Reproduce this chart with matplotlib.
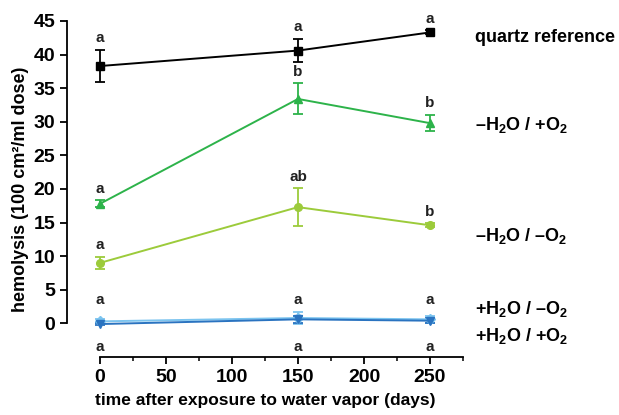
import matplotlib
matplotlib.use("Agg")
import matplotlib.pyplot as plt
from matplotlib.ticker import FixedLocator

plt.rcParams['font.family'] = ['Liberation Sans', 'DejaVu Sans']
plt.rcParams['font.weight'] = 'bold'
plt.rcParams['mathtext.fontset'] = 'custom'
plt.rcParams['mathtext.rm'] = 'Liberation Sans:bold'
plt.rcParams['mathtext.default'] = 'rm'

days = [0, 150, 250]

# mean hemolysis and error per group
quartz = [38.3, 40.6, 43.3]
quartz_err = [2.4, 1.7, 0.3]
dry_ox = [17.8, 33.4, 29.8]
dry_ox_err = [0.5, 2.3, 1.2]
dry_anox = [9.0, 17.3, 14.6]
dry_anox_err = [0.9, 2.8, 0.3]
wet_anox = [0.3, 0.8, 0.6]
wet_anox_err = [0.3, 0.9, 0.5]
wet_ox = [-0.1, 0.6, 0.4]
wet_ox_err = [0.2, 0.5, 0.4]

quartz_sig = ['a', 'a', 'a']
dry_ox_sig = ['a', 'b', 'b']
dry_anox_sig = ['a', 'ab', 'b']
wet_anox_sig = ['a', 'a', 'a']
wet_ox_sig = ['a', 'a', 'a']

group_labels = ['quartz reference', '\u2013H$_2$O / +O$_2$', '\u2013H$_2$O / \u2013O$_2$',
                '+H$_2$O / \u2013O$_2$', '+H$_2$O / +O$_2$']
label_y = [42.5, 29.5, 13.0, 2.2, -1.9]

fig = plt.figure(figsize=(6.19, 4.15), dpi=100)
ax = fig.add_axes([0.1082, 0.1398, 0.748 - 0.1082, 0.9494 - 0.1398])

series = [
    (quartz, quartz_err, 'black', 's', quartz_sig, 'above'),
    (dry_ox, dry_ox_err, '#2db34a', '^', dry_ox_sig, 'above'),
    (dry_anox, dry_anox_err, '#9ccb3b', 'o', dry_anox_sig, 'above'),
    (wet_anox, wet_anox_err, '#7cc4ef', 'D', wet_anox_sig, 'above'),
    (wet_ox, wet_ox_err, '#2a73c0', 'v', wet_ox_sig, 'below'),
]

for vals, errs, col, mk, sig, pos in series:
    ax.errorbar(days, vals, yerr=errs, color=col, marker=mk, markersize=5.5,
                linewidth=1.4, elinewidth=1.3, capsize=3.5, capthick=1.3,
                clip_on=False, zorder=3)
    for d, v, e, s in zip(days, vals, errs, sig):
        if pos == 'above':
            if col == '#7cc4ef':
                yy = 2.4
            else:
                yy = v + e + 0.7
            ax.text(d, yy, s, ha='center', va='bottom', fontsize=11,
                    fontweight='bold', color='#222222')
        else:
            ax.text(d, -2.4, s, ha='center', va='top', fontsize=11,
                    fontweight='bold', color='#222222')

for lab, yy in zip(group_labels, label_y):
    ax.text(1.03, yy, lab, transform=ax.get_yaxis_transform(), ha='left',
            va='center', fontsize=13, fontweight='bold')

ax.set_xlim(-25, 275)
ax.set_ylim(-5, 45)
ax.spines['top'].set_visible(False)
ax.spines['right'].set_visible(False)
ax.spines['left'].set_bounds(0, 45)
ax.spines['bottom'].set_bounds(0, 275)
ax.spines['left'].set_linewidth(1.3)
ax.spines['bottom'].set_linewidth(1.3)
ax.set_xticks([0, 50, 100, 150, 200, 250])
ax.xaxis.set_minor_locator(FixedLocator([25, 75, 125, 175, 225, 275]))
ax.set_yticks(range(0, 46, 5))
ax.tick_params(axis='both', which='major', length=5, width=1.3, labelsize=14)
ax.tick_params(axis='x', which='minor', length=3, width=1.1)
for t in ax.get_xticklabels() + ax.get_yticklabels():
    t.set_fontweight('bold')

ax.set_ylabel('hemolysis (100 cm\u00b2/ml dose)', fontsize=13, fontweight='bold',
              labelpad=3)
ax.set_xlabel('time after exposure to water vapor (days)', fontsize=12.5,
              fontweight='bold', labelpad=5)

fig.savefig('out.png', dpi=100)
